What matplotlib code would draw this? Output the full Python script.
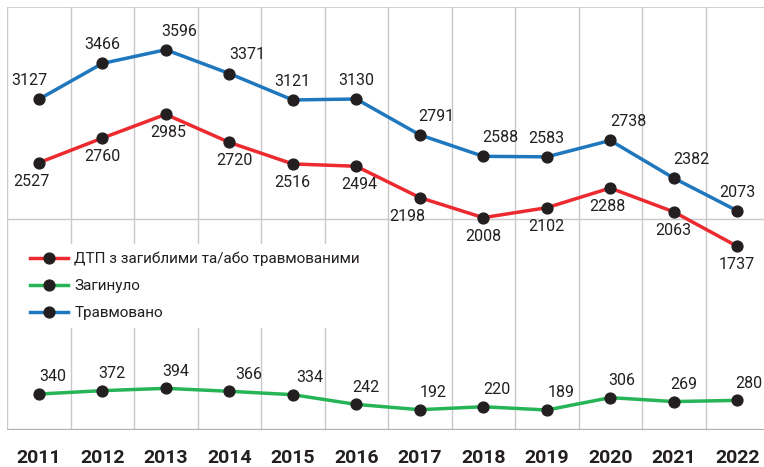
import numpy as np
import matplotlib.pyplot as plt
from matplotlib.lines import Line2D

plt.rcParams['font.family'] = ['Roboto', 'DejaVu Sans']

years = ['2011', '2012', '2013', '2014', '2015', '2016',
         '2017', '2018', '2019', '2020', '2021', '2022']
dtp = [2527, 2760, 2985, 2720, 2516, 2494, 2198, 2008, 2102, 2288, 2063, 1737]
killed = [340, 372, 394, 366, 334, 242, 192, 220, 189, 306, 269, 280]
injured = [3127, 3466, 3596, 3371, 3121, 3130, 2791, 2588, 2583, 2738, 2382, 2073]

names = ['ДТП з загиблими та/або травмованими', 'Загинуло', 'Травмовано']

red = '#ec2a2f'
green = '#27b457'
blue = '#1f77bd'
txt = '#231f20'

fig = plt.figure(figsize=(7.64, 4.67), dpi=100)
ax = fig.add_axes([7 / 764, 37 / 467, 762 / 764, 423 / 467])

x = np.arange(len(years))
ax.set_xlim(-0.5, len(years) - 0.5)
ax.set_ylim(0, 4000)

# сітка
for b in np.arange(-0.5, len(years), 1.0):
    ax.axvline(b, color='#c8c8c8', lw=1, zorder=0)
ax.axhline(2000, color='#c8c8c8', lw=1, zorder=0)
ax.axhline(4000, color='#c8c8c8', lw=1.2, zorder=0)
ax.axhline(0, color='#b0b0b0', lw=1.6, zorder=0)
for s in ax.spines.values():
    s.set_visible(False)

mk = dict(marker='o', ms=7.8, mfc=txt, mec=txt, lw=2.5, zorder=3)
ax.plot(x, dtp, color=red, **mk)
ax.plot(x, killed, color=green, **mk)
ax.plot(x, injured, color=blue, **mk)

# підписи значень
inj_dx = [-7, 0, 10, 13, 0, 0, 12, 12, 0, 13, 13, 0]
dtp_dx = [-5, 0, 2, 4, 0, 2, -9, 0, 0, -2, 0, 0]
kil_dx = [10, 7, 7, 14, 12, 7, 10, 10, 10, 8, 7, 8]
fs = 11.5
for i in range(len(years)):
    ax.annotate(str(injured[i]), (x[i], injured[i]), xytext=(inj_dx[i], 8),
                textcoords='offset points', ha='center', va='bottom',
                fontsize=fs, color=txt)
    ax.annotate(str(dtp[i]), (x[i], dtp[i]), xytext=(dtp_dx[i], -8),
                textcoords='offset points', ha='center', va='top',
                fontsize=fs, color=txt)
    ax.annotate(str(killed[i]), (x[i], killed[i]), xytext=(kil_dx[i], 7),
                textcoords='offset points', ha='center', va='bottom',
                fontsize=fs, color=txt)

ax.set_xticks(x)
ax.set_xticklabels(years, fontsize=14, fontweight='bold', color=txt)
ax.tick_params(axis='x', length=0, pad=14)
ax.set_yticks([])

handles = [Line2D([], [], color=c, marker='o', ms=7.8, mfc=txt, mec=txt, lw=2.5)
           for c in (red, green, blue)]
leg = ax.legend(handles, names, loc='upper left', bbox_to_anchor=(0.01, 0.458),
                frameon=True, framealpha=1, edgecolor='none', fancybox=False,
                fontsize=11, handlelength=2.5, handletextpad=0.4,
                labelspacing=0.85, borderpad=0.5, labelcolor=txt)

fig.savefig('out.png', dpi=100)
